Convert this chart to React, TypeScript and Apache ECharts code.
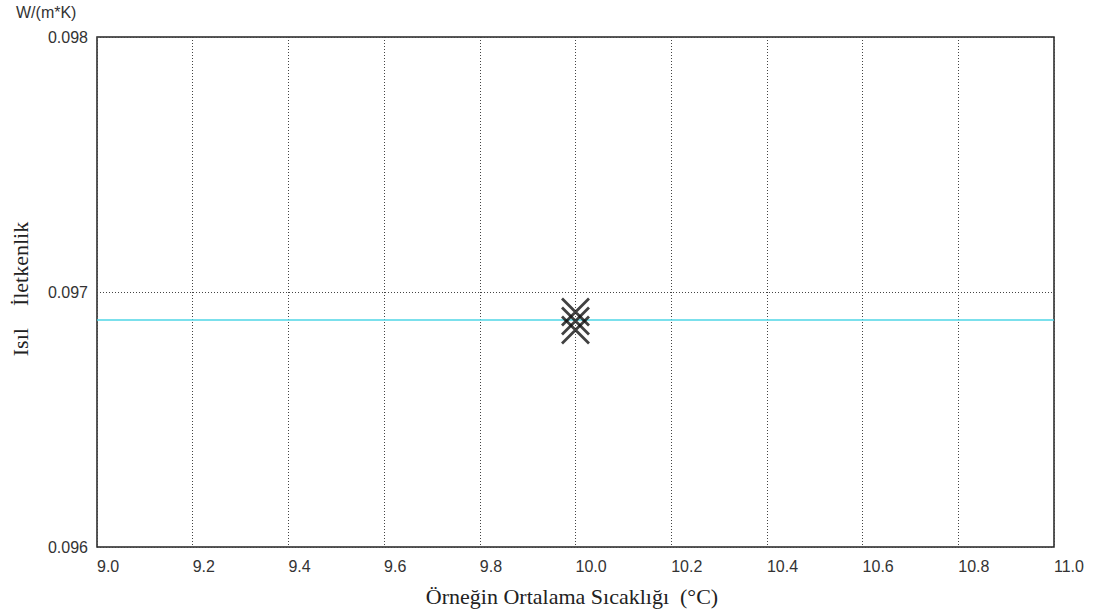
import React, { useEffect, useRef } from "react";
import * as echarts from "echarts";

const xMin = 9.0;
const xMax = 11.0;
const xStep = 0.2;
const yMin = 0.096;
const yMax = 0.098;
const yStep = 0.001;

const measuredX = [10.0, 10.0, 10.0];
const measuredY = [0.096922, 0.096886, 0.096851];

const fitLineX = [9.0, 11.0];
const fitLineY = [0.09689, 0.09689];

const yUnit = "W/(m*K)";
const yTitle = "Isıl    İletkenlik";
const xTitle = "Örneğin Ortalama Sıcaklığı  (°C)";

export default function App() {
  const ref = useRef<HTMLDivElement>(null);
  useEffect(() => {
    if (!ref.current) return;
    const chart = echarts.init(ref.current, null, { renderer: "svg" });
    const gridLine = { show: true, lineStyle: { color: "#444", type: [1, 2], width: 1 } };
    const sans = "Liberation Sans, Arial, sans-serif";
    const serif = "Liberation Serif, Times New Roman, serif";
    chart.setOption({
      animation: false,
      backgroundColor: "#fff",
      grid: {
        left: 97,
        right: 46,
        top: 37,
        bottom: 68,
        show: true,
        borderColor: "#222",
        borderWidth: 1.5,
        backgroundColor: "transparent",
      },
      xAxis: {
        type: "value",
        min: xMin,
        max: xMax,
        interval: xStep,
        axisLine: { show: false },
        axisTick: { show: false },
        splitLine: gridLine,
        axisLabel: {
          formatter: (v: number) => v.toFixed(1),
          color: "#333",
          fontSize: 16,
          fontFamily: sans,
          align: "left",
          margin: 11,
        },
      },
      yAxis: {
        type: "value",
        min: yMin,
        max: yMax,
        interval: yStep,
        axisLine: { show: false },
        axisTick: { show: false },
        splitLine: gridLine,
        axisLabel: {
          formatter: (v: number) => v.toFixed(3),
          color: "#333",
          fontSize: 16,
          fontFamily: sans,
          margin: 9,
        },
      },
      series: [
        {
          type: "line",
          data: fitLineX.map((x, i) => [x, fitLineY[i]]),
          symbol: "none",
          lineStyle: { color: "#4fd6e6", width: 1.5 },
          z: 2,
        },
        {
          type: "scatter",
          data: measuredX.map((x, i) => [x, measuredY[i]]),
          symbol: "path://M0,0L10,10M10,0L0,10",
          symbolSize: [27, 27],
          symbolKeepAspect: false,
          itemStyle: { color: "none", borderColor: "#111", borderWidth: 2.8 },
          z: 3,
        },
      ],
      graphic: [
        {
          type: "text",
          left: 16,
          top: 4,
          style: {
            text: yUnit,
            fill: "#333",
            fontSize: 16,
            fontFamily: sans,
          },
        },
        {
          type: "text",
          x: 20,
          y: 289,
          rotation: Math.PI / 2,
          style: {
            text: yTitle,
            fill: "#222",
            fontSize: 22,
            fontFamily: serif,
            align: "center",
            verticalAlign: "middle",
          },
        },
        {
          type: "text",
          x: 572,
          y: 596,
          style: {
            text: xTitle,
            fill: "#222",
            fontSize: 22,
            fontFamily: serif,
            align: "center",
            verticalAlign: "middle",
          },
        },
      ],
    });
    return () => chart.dispose();
  }, []);
  return (
    <div
      ref={ref}
      style={{ position: "fixed", left: 0, top: 0, width: 1100, height: 615, background: "#fff" }}
    />
  );
}
